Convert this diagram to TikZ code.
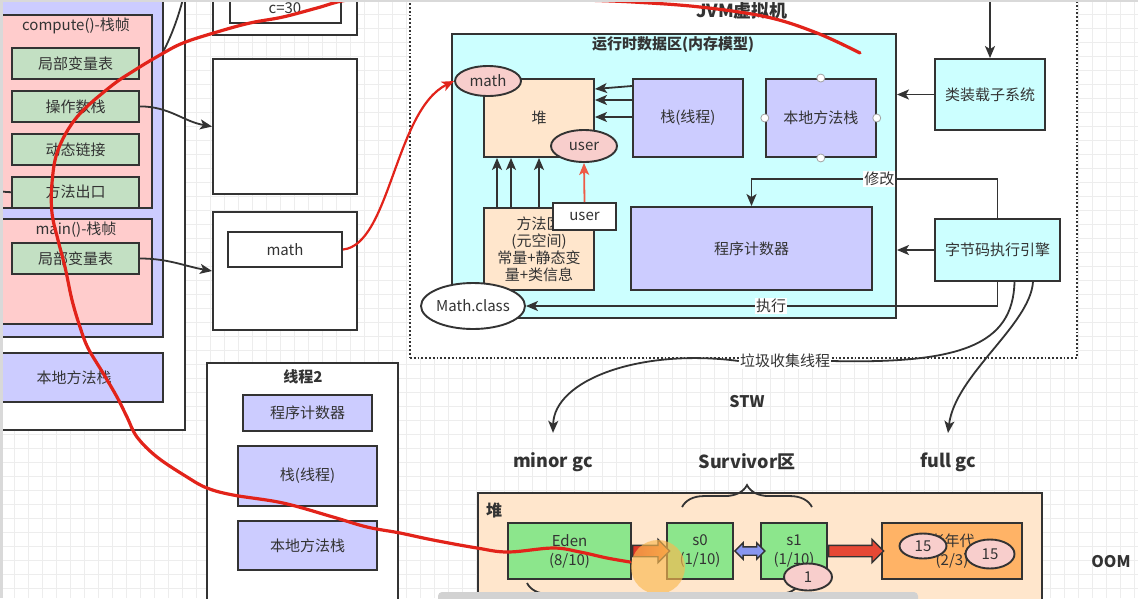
\documentclass[tikz,border=0pt]{standalone}
\usepackage{fontspec}
\setmainfont{Noto Sans CJK SC}
\usetikzlibrary{positioning,shapes.geometric,shapes.arrows,decorations.pathreplacing,arrows.meta}

\definecolor{ink}{HTML}{333333}
\definecolor{lav}{HTML}{CCCCFF}
\definecolor{rose}{HTML}{FFCCCC}
\definecolor{sage}{HTML}{C3E0C3}
\definecolor{peach}{HTML}{FFE6CC}
\definecolor{aqua}{HTML}{CCFFFF}
\definecolor{blush}{HTML}{F8CECC}
\definecolor{lime}{HTML}{8CE68C}
\definecolor{amber}{HTML}{FFB366}
\definecolor{pen}{HTML}{E2231A}
\definecolor{coral}{HTML}{EE5A46}
\definecolor{fire}{HTML}{DC3228}
\definecolor{tang}{HTML}{F58C3C}
\definecolor{brick}{HTML}{E64834}
\definecolor{iris}{HTML}{8896F0}
\definecolor{glow}{HTML}{FAB950}
\definecolor{gridline}{HTML}{EDEDED}

\begin{document}
\begin{tikzpicture}[x=1pt, y=-1pt,
	every node/.style = {font=\fontsize{15}{17}\selectfont, text=ink},
	box/.style = {shape=rectangle, draw=ink, line width=1.9pt, inner sep=0pt, align=center},
	slot/.style = {box, fill=sage, minimum width=127pt, minimum height=31pt},
	blob/.style = {shape=ellipse, draw=ink, line width=1.9pt, inner sep=0pt, fill=blush},
	heading/.style = {font=\bfseries\fontsize{15}{17}\selectfont},
	link/.style = {draw=ink, line width=1.8pt, -{Stealth[length=12pt,width=10pt,inset=3pt]}},
	fat/.style = {shape=single arrow, draw=ink, line width=1.4pt, inner xsep=0pt, inner ysep=5pt,
		single arrow head extend=6pt, single arrow head indent=0pt},
	tag/.style = {fill=white, inner sep=1pt}]
	\useasboundingbox (0,0) rectangle (1138,598);
	\clip (0,0) rectangle (1138,598);
	\fill[white] (0,0) rectangle (1138,598);
	\draw[gridline, line width=0.6pt] (0,0) grid[step=14pt] (1138,598);

	% thread 1
	\node[box, fill=white, minimum width=200pt, minimum height=445pt] (T1) at (85,207.5) {};
	\node[box, fill=lav, minimum width=175pt, minimum height=352pt] (TS) at (75.5,161) {};
	\node[box, fill=rose, minimum width=153pt, minimum height=193pt] (CF) at (75.5,111.5) {};
	\node (CFt) at (76,26) {compute()-栈帧};
	\node[slot] (LV) at (75.5,63.5) {局部变量表};
	\node[slot, below=10pt of LV] (OS) {操作数栈};
	\node[slot, below=10pt of OS] (DL) {动态链接};
	\node[slot, below=10pt of DL] (MX) {方法出口};
	\node[box, fill=rose, minimum width=153pt, minimum height=105pt] (MF) at (75.5,271.5) {};
	\node (MFt) at (76,230) {main()-栈帧};
	\node[slot] (LVm) at (75.5,258.5) {局部变量表};
	\node[box, fill=lav, minimum width=178pt, minimum height=49pt] (NS1) at (74,377.5) {本地方法栈};
	\coordinate (lf) at (-5,191);
	\draw[ink, line width=1.8pt] (lf) to[out=0, in=180] (MX.west);

	% objects
	\node[box, fill=white, minimum width=144pt, minimum height=50pt] (HA) at (285,10) {};
	\node[box, fill=white, minimum width=111pt, minimum height=38pt] (C30) at (285.5,4) {};
	\node (C30t) at (285,8) {c=30};
	\node[box, fill=white, minimum width=144pt, minimum height=135pt] (HB) at (285,126.5) {};
	\node[box, fill=white, minimum width=144pt, minimum height=118pt] (HC) at (285,271) {};
	\node[box, fill=white, minimum width=114pt, minimum height=35pt] (MR) at (285,249.5) {math};
	\draw[link] (OS.east) to[out=0, in=170] (HB.west);
	\draw[link] (LVm.east) to[out=0, in=170] (HC.west);
	\coordinate (up1) at (163,52);
	\coordinate (up2) at (184,-5);
	\draw[ink, line width=1.8pt] (up1) .. controls (172,35) and (179,15) .. (up2);

	% thread 2
	\node[box, fill=white, minimum width=191pt, minimum height=250pt] (T2) at (302.5,488) {};
	\node[heading] (T2t) at (303,377) {线程2};
	\node[box, fill=lav, minimum width=129pt, minimum height=36pt] (PC2) at (307.5,413) {程序计数器};
	\node[box, fill=lav, minimum width=139pt, minimum height=60pt, below=13pt of PC2] (ST2) {栈(线程)};
	\node[box, fill=lav, minimum width=139pt, minimum height=49pt, below=13pt of ST2] (NS2) {本地方法栈};

	% jvm
	\node[box, dash pattern=on 1.8pt off 2pt, fill=white, minimum width=667pt, minimum height=373pt] (JVM) at (743.5,171.5) {};
	\node[font=\bfseries\fontsize{18}{20}\selectfont] (JVMt) at (742,11) {JVM虚拟机};
	\node[box, fill=aqua, minimum width=444pt, minimum height=284pt] (RDA) at (674,176) {};
	\node[heading] (RDAt) at (673,45) {运行时数据区(内存模型)};
	\node[box, fill=peach, minimum width=110pt, minimum height=78pt] (HP) at (539,118) {堆};
	\node[box, fill=lav, minimum width=110pt, minimum height=78pt, right=37pt of HP] (STK) {栈(线程)};
	\node[box, fill=lav, minimum width=110pt, minimum height=78pt, right=21pt of STK] (NMS) {本地方法栈};
	\node[box, fill=lav, minimum width=241pt, minimum height=83pt] (PC) at (751.5,248.5) {程序计数器};
	\node[box, fill=peach, minimum width=110pt, minimum height=82pt] (MA) at (539,249) {方法区\\(元空间)\\常量+静态变\\量+类信息};
	\draw[link] ([yshift=32pt]STK.west) -- ([yshift=29pt]HP.east);
	\draw[link] ([yshift=18pt]STK.west) -- ([yshift=18pt]HP.east);
	\draw[link] ([yshift=1pt]STK.west) -- ([yshift=1pt]HP.east);
	\draw[link] ([xshift=-42pt]MA.north) -- ([xshift=-42pt]HP.south);
	\draw[link] ([xshift=-28pt]MA.north) -- ([xshift=-28pt]HP.south);
	\draw[link] (MA.north) -- (HP.south);
	\node[blob, minimum width=66pt, minimum height=30pt] (mE) at (488,81) {math};
	\node[blob, minimum width=66pt, minimum height=32pt] (uE) at (584,146) {user};
	\node[box, fill=white, minimum width=63pt, minimum height=27pt] (uB) at (584.5,216.5) {user};
	\draw[link, draw=coral] (uB.north) -- (uE.south);
	\node[blob, fill=white, minimum width=96pt, minimum height=46pt] (MC) at (473,306) {Math.class};
	\draw[ink!45, fill=white, line width=0.8pt] (NMS.north) circle (4pt);
	\draw[ink!45, fill=white, line width=0.8pt] (NMS.south) circle (4pt);
	\draw[ink!45, fill=white, line width=0.8pt] (NMS.east) circle (4pt);
	\draw[ink!45, fill=white, line width=0.8pt] (NMS.west) circle (4pt);

	\node[box, fill=aqua, minimum width=110pt, minimum height=71pt] (CL) at (990,94.5) {类装载子系统};
	\node[box, fill=aqua, minimum width=125pt, minimum height=62pt] (EE) at (997.5,250) {字节码执行引擎};
	\coordinate (CLin) at (990,-10);
	\draw[link] (CLin) -- (CL.north);
	\draw[link] (CL.west) -- (CL.west -| RDA.east);
	\draw[link] (EE.west) -- (EE.west -| RDA.east);
	\draw[link] (EE.north) -- ++(0,-39) -| node[tag, pos=0.24] (XG) {修改} (PC.north);
	\draw[link] (EE.south) |- node[tag, pos=0.74] (ZX) {执行} (MC.east);

	% gc
	\node[tag] (GCT) at (785,361) {垃圾收集线程};
	\node[font=\bfseries\fontsize{16}{18}\selectfont] (STW) at (747,402) {STW};
	\node[font=\bfseries\fontsize{18}{20}\selectfont] (MG) at (553,462) {minor gc};
	\node[font=\bfseries\fontsize{18}{20}\selectfont] (SV) at (747,462) {Survivor区};
	\node[font=\bfseries\fontsize{18}{20}\selectfont] (FG) at (948,462) {full gc};
	\node[font=\bfseries\fontsize{16}{18}\selectfont] (OOM) at (1111,562) {OOM};
	\draw[ink, line width=1.8pt] (EE.-62) .. controls (1013,345) and (960,364) .. (GCT.east);
	\draw[link] (GCT.west) .. controls (640,348) and (554,380) .. ([yshift=16pt]MG.north);
	\draw[link] (EE.-42) .. controls (1030,325) and (955,375) .. ([yshift=16pt]FG.north);

	% heap
	\node[box, fill=peach, minimum width=564pt, minimum height=120pt] (H2) at (760,553) {};
	\node[font=\bfseries\fontsize{16}{18}\selectfont] (H2t) at (494,510) {堆};
	\node[box, fill=lime, minimum width=123pt, minimum height=56pt, font=\fontsize{15}{19}\selectfont] (ED) at (569.5,551) {Eden\\(8/10)};
	\node[box, fill=lime, minimum width=66pt, minimum height=56pt, font=\fontsize{15}{19}\selectfont] (S0) at (700,551) {s0\\(1/10)};
	\node[box, fill=lime, minimum width=66pt, minimum height=56pt, font=\fontsize{15}{19}\selectfont] (S1) at (794,551) {s1\\(1/10)};
	\node[box, fill=amber, minimum width=140pt, minimum height=56pt, font=\fontsize{15}{19}\selectfont] (OLD) at (952,551) {老年代\\(2/3)};
	\node[fat, left color=fire, right color=tang, minimum height=37pt, right=0pt of ED] (EA) {};
	\node[shape=double arrow, draw=ink, line width=1.4pt, inner xsep=0pt, inner ysep=3.5pt, fill=iris,
		double arrow head extend=4pt, minimum height=30pt, right=0pt of S0] (BA) {};
	\node[fat, fill=brick, minimum height=55pt, right=0pt of S1] (RA) {};
	\draw[ink, line width=1.8pt, decorate, decoration={brace, amplitude=22pt}]
		([xshift=16pt, yshift=15pt]S0.north west) -- ([xshift=-16pt, yshift=15pt]S1.north east);
	\coordinate (bb1) at (527,583);
	\coordinate (bb2) at (800,583);
	\draw[ink, line width=1.8pt, decorate, decoration={brace, amplitude=22pt}] (bb2) -- (bb1);
	\node[blob, minimum width=47pt, minimum height=25pt] (A15) at (923,546) {15};
	\node[blob, minimum width=49pt, minimum height=29pt] (B15) at (990,554) {15};
	\node[blob, minimum width=48pt, minimum height=27pt] (E1) at (808,577) {1};

	% pen strokes
	\draw[pen, line width=3.2pt, line cap=round] plot[smooth, tension=0.6] coordinates {(860,53) (817,33) (767,17) (700,7) (633,2) (567,-1) (480,-8) (400,-6) (347,0) (317,8) (283,17) (250,23) (217,32) (183,43) (160,55) (135,70) (110,87) (77,117) (58,150) (52,183) (52,213) (58,240) (65,267) (72,300) (80,327) (88,348) (103,373) (117,397) (127,417) (137,437) (157,457) (187,477) (207,488) (233,495) (283,503) (333,517) (367,527) (400,533) (433,540) (477,548) (508,552) (553,548) (580,552) (607,558) (630,562)};
	\draw[pen, line width=2.2pt, -{Stealth[length=12pt,width=10pt,inset=3pt]}] (MR.east) .. controls (390,245) and (395,110) .. (mE.west);

	\fill[glow, opacity=0.65] (658,567) circle (27pt);
	\fill[gray!35, rounded corners=4pt] (438,592) rectangle (918,606);
	\fill[gray!30] (0,0) rectangle (1138,2);
	\fill[gray!30] (0,0) rectangle (3,598);
\end{tikzpicture}
\end{document}
